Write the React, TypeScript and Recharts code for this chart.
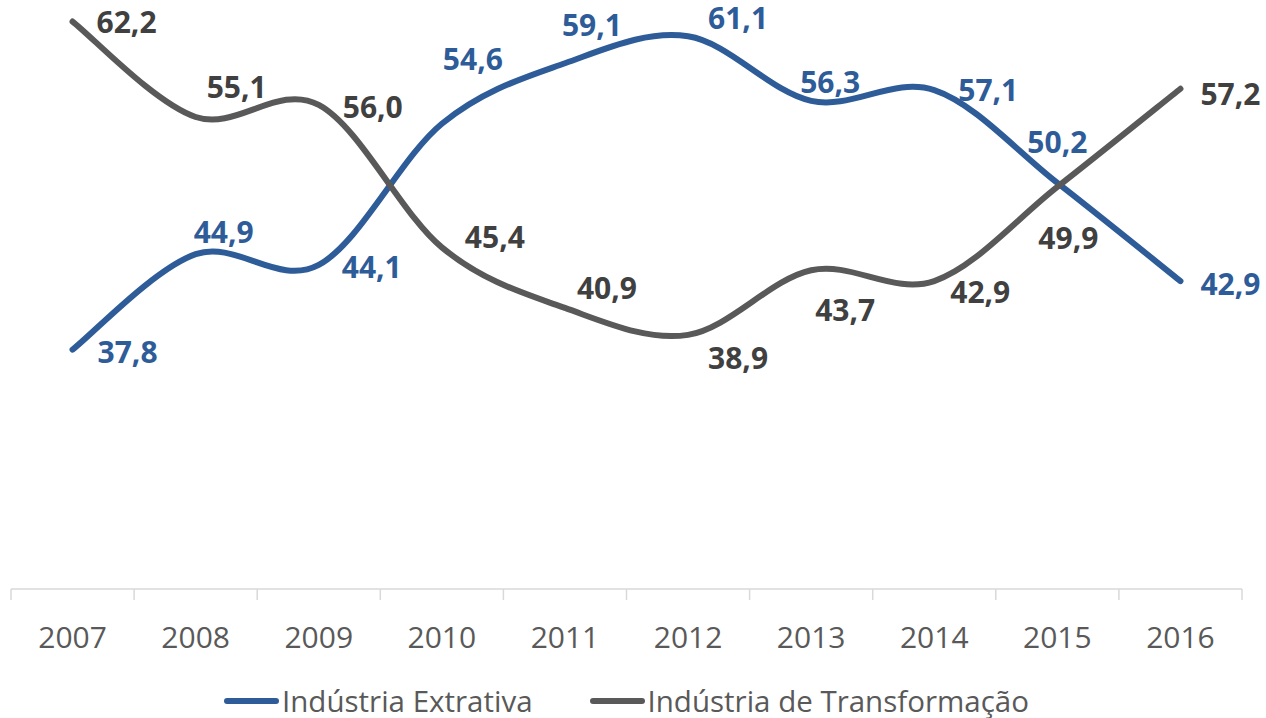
import { LineChart, Line, XAxis, YAxis, Legend, LabelList } from 'recharts';

const years = ['2007', '2008', '2009', '2010', '2011', '2012', '2013', '2014', '2015', '2016'];
const extrativa = [37.8, 44.9, 44.1, 54.6, 59.1, 61.1, 56.3, 57.1, 50.2, 42.9];
const transformacao = [62.2, 55.1, 56.0, 45.4, 40.9, 38.9, 43.7, 42.9, 49.9, 57.2];

// label nudges (px) relative to each point
const extrativaOffsets = [[55, 2], [28, -23], [53, 2], [31, -65], [27, -39], [50, -19], [19, -19], [54, -1], [0, -41], [50, 2]];
const transformacaoOffsets = [[54, 0], [41, -30], [54, 2], [53, -11], [42, -20], [50, 23], [34, 39], [46, 10], [11, 51], [50, 5]];

const BLUE = '#2e5c98';
const GRAY = '#595959';
const FONT = '"Open Sans", sans-serif';
const HALF_BAND = 1231 / 20;

const data = years.map((year, i) => ({
    year,
    extrativa: extrativa[i],
    transformacao: transformacao[i],
}));

// Excel-like smoothed line (Catmull-Rom through the points)
function excelCurve(context: any) {
    let pts: number[][] = [];
    return {
        areaStart() {},
        areaEnd() {},
        lineStart() {
            pts = [];
        },
        point(x: number, y: number) {
            pts.push([+x, +y]);
        },
        lineEnd() {
            if (!pts.length) return;
            context.moveTo(pts[0][0], pts[0][1]);
            for (let i = 0; i < pts.length - 1; i++) {
                const p0 = pts[i - 1] || pts[i];
                const p1 = pts[i];
                const p2 = pts[i + 1];
                const p3 = pts[i + 2] || p2;
                context.bezierCurveTo(
                    p1[0] + (p2[0] - p0[0]) / 6,
                    p1[1] + (p2[1] - p0[1]) / 6,
                    p2[0] - (p3[0] - p1[0]) / 6,
                    p2[1] - (p3[1] - p1[1]) / 6,
                    p2[0],
                    p2[1]
                );
            }
        },
    };
}

const makeLabel = (offsets: number[][], color: string) => (props: any) => {
    const { x, y, value, index } = props;
    const [dx, dy] = offsets[index] || [0, 0];
    return (
        <text
            x={x + dx}
            y={y + dy}
            fill={color}
            fontSize={30}
            fontWeight={700}
            fontFamily={FONT}
            textAnchor="middle"
            dominantBaseline="central"
        >
            {Number(value).toFixed(1).replace('.', ',')}
        </text>
    );
};

const YearTick = (props: any) => {
    const { x, y, payload, index } = props;
    return (
        <g>
            <line x1={x - HALF_BAND} y1={y} x2={x - HALF_BAND} y2={y + 11} stroke="#d9d9d9" strokeWidth={1.5} />
            {index === years.length - 1 && (
                <line x1={x + HALF_BAND} y1={y} x2={x + HALF_BAND} y2={y + 11} stroke="#d9d9d9" strokeWidth={1.5} />
            )}
            <text
                x={x}
                y={y + 47}
                fill={GRAY}
                fontSize={30}
                fontFamily={FONT}
                textAnchor="middle"
                dominantBaseline="central"
            >
                {payload.value}
            </text>
        </g>
    );
};

const LegendContent = (props: any) => {
    const { payload } = props;
    return (
        <div style={{ display: 'flex', justifyContent: 'center', gap: 57, height: 50, alignItems: 'flex-end' }}>
            {(payload || []).map((entry: any) => (
                <div key={entry.value} style={{ display: 'flex', alignItems: 'center', marginBottom: -10 }}>
                    <span
                        style={{
                            display: 'inline-block',
                            width: 55,
                            height: 6,
                            borderRadius: 3,
                            background: entry.color,
                            marginRight: 3,
                        }}
                    />
                    <span style={{ fontFamily: FONT, fontSize: 29.5, color: GRAY, lineHeight: '36px' }}>{entry.value}</span>
                </div>
            ))}
        </div>
    );
};

export default function App() {
    return (
        <div style={{ position: 'absolute', left: 0, top: 0, width: 1266, height: 718, background: '#fff', overflow: 'hidden' }}>
            <LineChart width={1266} height={718} data={data} margin={{ top: 0, right: 24, bottom: 9, left: 11 }}>
                <XAxis
                    dataKey="year"
                    height={70}
                    tickLine={false}
                    tickSize={0}
                    tickMargin={0}
                    padding={{ left: HALF_BAND, right: HALF_BAND }}
                    axisLine={{ stroke: '#d9d9d9', strokeWidth: 1.5 }}
                    tick={<YearTick />}
                    interval={0}
                />
                <YAxis hide domain={[20, 63.8]} />
                <Legend height={50} verticalAlign="bottom" content={<LegendContent />} />
                <Line
                    dataKey="extrativa"
                    name="Indústria Extrativa"
                    type={excelCurve as any}
                    stroke={BLUE}
                    strokeWidth={6}
                    strokeLinecap="round"
                    dot={false}
                    isAnimationActive={false}
                >
                    <LabelList dataKey="extrativa" content={makeLabel(extrativaOffsets, BLUE)} />
                </Line>
                <Line
                    dataKey="transformacao"
                    name="Indústria de Transformação"
                    type={excelCurve as any}
                    stroke={GRAY}
                    strokeWidth={6}
                    strokeLinecap="round"
                    dot={false}
                    isAnimationActive={false}
                >
                    <LabelList dataKey="transformacao" content={makeLabel(transformacaoOffsets, '#404040')} />
                </Line>
            </LineChart>
        </div>
    );
}
